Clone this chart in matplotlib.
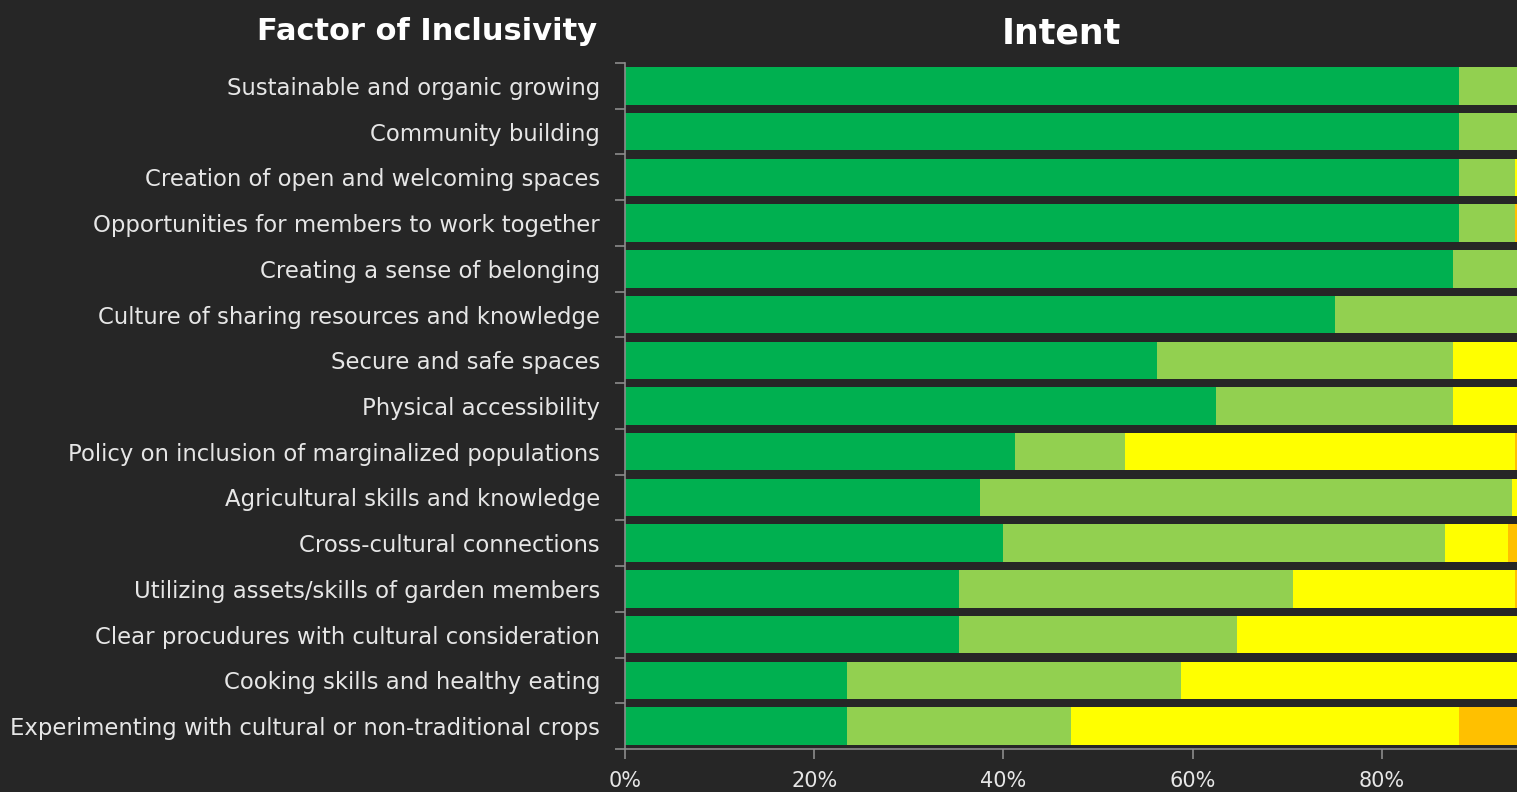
import matplotlib
matplotlib.use("Agg")
import matplotlib.pyplot as plt
import numpy as np

categories = [
    "Sustainable and organic growing",
    "Community building",
    "Creation of open and welcoming spaces",
    "Opportunities for members to work together",
    "Creating a sense of belonging",
    "Culture of sharing resources and knowledge",
    "Secure and safe spaces",
    "Physical accessibility",
    "Policy on inclusion of marginalized populations",
    "Agricultural skills and knowledge",
    "Cross-cultural connections",
    "Utilizing assets/skills of garden members",
    "Clear procudures with cultural consideration",
    "Cooking skills and healthy eating",
    "Experimenting with cultural or non-traditional crops",
]

# percentages per response level
level1 = [88.2, 88.2, 88.2, 88.2, 87.5, 75.0, 56.25, 62.5, 41.2, 37.5, 40.0, 35.3, 35.3, 23.5, 23.5]
level2 = [11.8, 11.8, 5.9, 5.9, 12.5, 25.0, 31.25, 25.0, 11.7, 56.25, 46.7, 35.3, 29.4, 35.3, 23.6]
level3 = [0.0, 0.0, 5.9, 0.0, 0.0, 0.0, 12.5, 12.5, 41.2, 6.25, 6.6, 23.5, 35.3, 41.2, 41.1]
level4 = [0.0, 0.0, 0.0, 5.9, 0.0, 0.0, 0.0, 0.0, 5.9, 0.0, 6.7, 5.9, 0.0, 0.0, 11.8]

colors = ["#00B050", "#92D050", "#FFFF00", "#FFC000"]
x_ticks = [0, 20, 40, 60, 80]
x_ticklabels = ["0%", "20%", "40%", "60%", "80%"]

bg = "#262626"
fam = "DejaVu Sans"
fig = plt.figure(figsize=(15.17, 7.92), dpi=100, facecolor=bg)
ax = fig.add_axes([625 / 1517, 43 / 792, 946 / 1517, 686 / 792])
ax.set_facecolor(bg)

y = np.arange(len(categories))
left = np.zeros(len(categories))
for vals, c in zip([level1, level2, level3, level4], colors):
    vals = np.array(vals)
    ax.barh(y, vals, left=left, height=0.82, color=c, edgecolor="none")
    left += vals

ax.set_xlim(0, 100)
ax.set_ylim(len(categories) - 0.5, -0.5)
ax.set_yticks(y)
ax.set_yticklabels(categories, fontsize=16.4, color="#e6e6e6", family=fam)
ax.set_yticks(np.arange(-0.5, len(categories), 1), minor=True)
ax.tick_params(axis="y", which="major", length=0, pad=18)
ax.tick_params(axis="y", which="minor", length=7, color="#8c8c8c", width=1.2)
ax.set_xticks(x_ticks)
ax.set_xticklabels(x_ticklabels, fontsize=15, color="#e6e6e6", family=fam)
ax.tick_params(axis="x", length=7, color="#8c8c8c", width=1.2, pad=9)

for s in ["top", "right"]:
    ax.spines[s].set_visible(False)
for s in ["left", "bottom"]:
    ax.spines[s].set_color("#8c8c8c")
    ax.spines[s].set_linewidth(1.2)

fig.text(597 / 1517, 1 - 31 / 792, "Factor of Inclusivity", ha="right", va="center",
         fontsize=22, fontweight="bold", color="white", family=fam)
fig.text(1061 / 1517, 1 - 33 / 792, "Intent", ha="center", va="center",
         fontsize=25, fontweight="bold", color="white", family=fam)

fig.savefig("out.png", dpi=100, facecolor=bg)
